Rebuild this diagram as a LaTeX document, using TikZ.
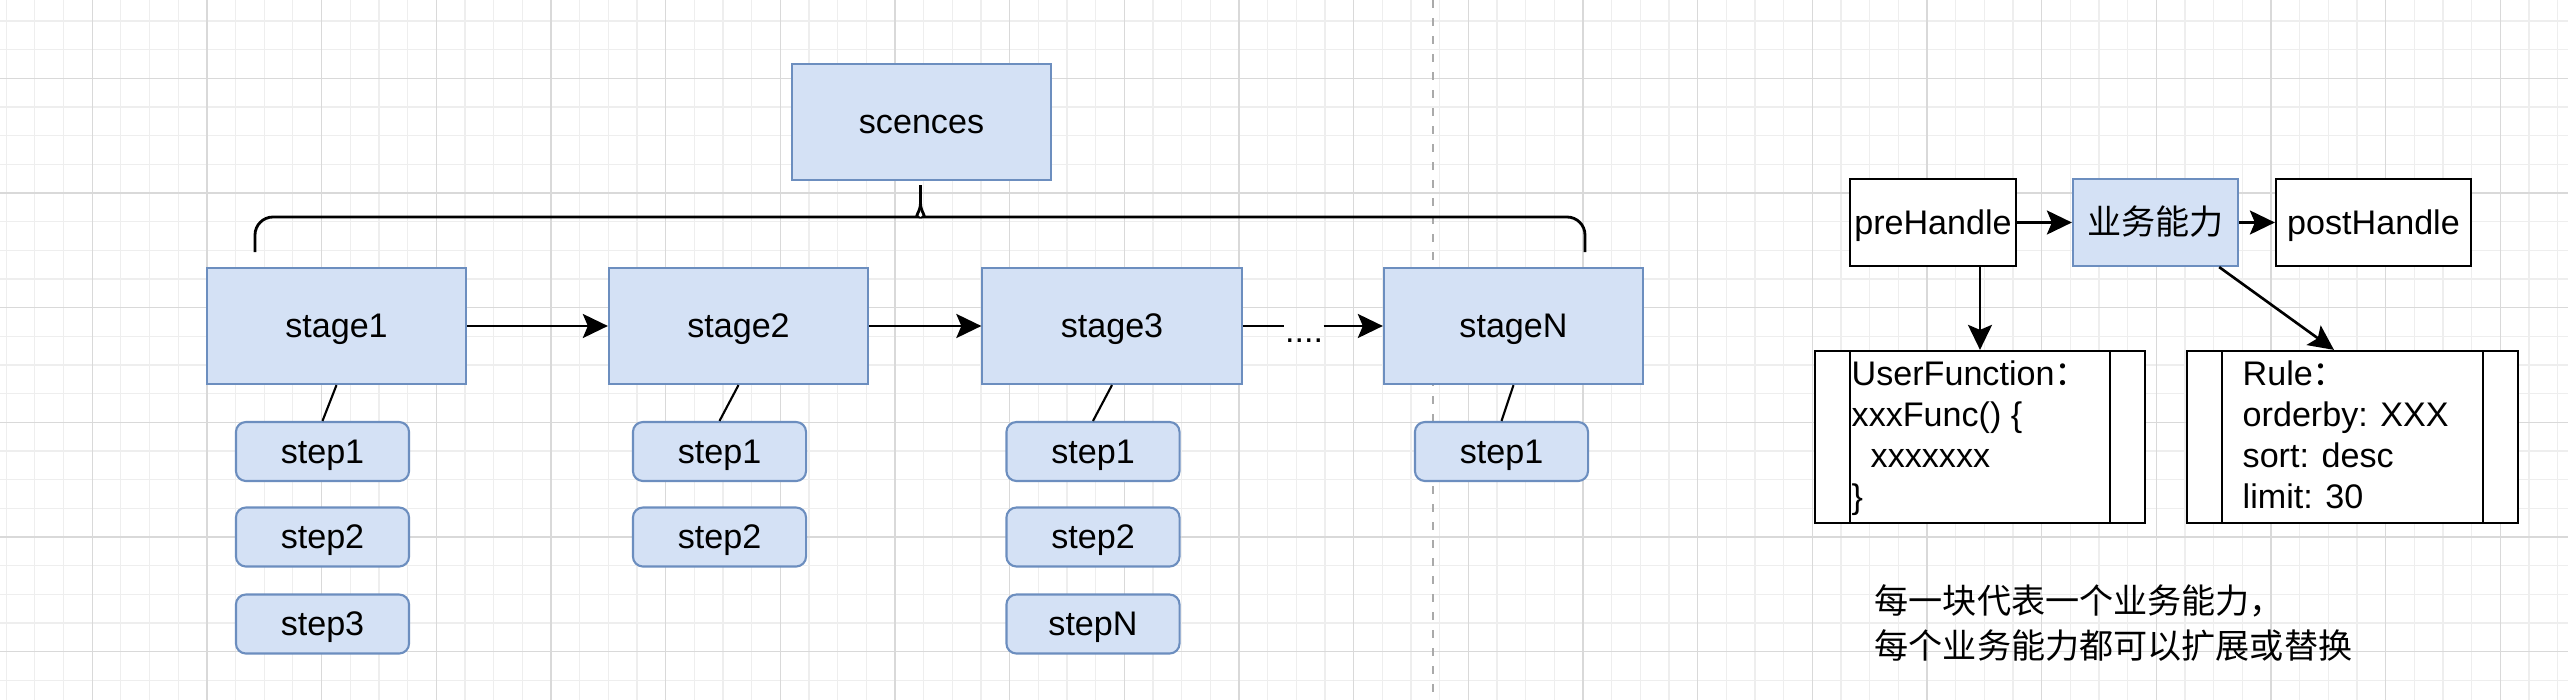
\documentclass[tikz,border=0pt]{standalone}
\usepackage{fontspec}
\setmainfont{Liberation Sans}
\newfontfamily\cjk{Noto Sans CJK SC}
\usetikzlibrary{arrows.meta}
\definecolor{bluefill}{HTML}{D4E1F5}
\definecolor{blueline}{HTML}{6C8EBF}
\definecolor{gridminor}{HTML}{EEEEEE}
\definecolor{gridmajor}{HTML}{D9D9D9}
\definecolor{sepgrey}{HTML}{AAAAAA}
\tikzset{
  bluebox/.style={draw=blueline, fill=bluefill, line width=0.6pt, inner sep=0pt, text height=0.85em, text depth=0.17em},
  stagebox/.style={bluebox, minimum width=2.59cm, minimum height=1.16cm},
  stepbox/.style={bluebox, rounded corners=0.1cm, minimum width=1.73cm, minimum height=0.59cm},
  handlebox/.style={draw=black, fill=white, line width=0.6pt, inner sep=0pt, minimum height=0.87cm, text height=0.85em, text depth=0.17em},
  procbox/.style={draw=black, fill=white, line width=0.6pt, minimum width=3.3cm, minimum height=1.72cm,
    path picture={\draw[line width=0.6pt]
      ([xshift=0.35cm]path picture bounding box.north west) -- ([xshift=0.35cm]path picture bounding box.south west)
      ([xshift=-0.35cm]path picture bounding box.north east) -- ([xshift=-0.35cm]path picture bounding box.south east);}},
  arr/.style={-{Stealth[length=0.25cm, width=0.24cm, inset=0.05cm]}, line width=0.75pt},
  link/.style={line width=0.6pt},
  brace/.style={line width=0.8pt, rounded corners=0.18cm},
}

\begin{document}
\begin{tikzpicture}[x=0.01cm, y=-0.01cm, font=\fontsize{9.7}{11.7}\selectfont]
		%%%%% GRID %%%%%
		\useasboundingbox (0,0) rectangle (2568,700);
		\fill[white] (0,0) rectangle (2568,700);
		\foreach \i in {0,...,89} \draw[gridminor, line width=0.3pt] ({6.3+\i*28.667},0) -- ++(0,700);
		\foreach \j in {1,...,24} \draw[gridminor, line width=0.3pt] (0,{-7.67+\j*28.667}) -- ++(2568,0);
		\foreach \k in {0,...,21} \draw[gridmajor, line width=0.4pt] ({92.3+\k*114.667},0) -- ++(0,700);
		\foreach \k in {0,...,5} \draw[gridmajor, line width=0.4pt] (0,{78.3+\k*114.667}) -- ++(2568,0);
		\draw[sepgrey, line width=0.6pt, dash pattern=on 0.08cm off 0.1cm] (1433,0) -- (1433,700);
		
		%%%%% LEFT %%%%%
		\node[stagebox] (scences) at (921.5, 122) {scences};
		\draw[brace] (255,252) |- (900,217) [sharp corners] .. controls (914,217) and (920.5,212) .. (920.5,203) -- (920.5,185);
		\draw[brace] (1585,252) |- (941,217) [sharp corners] .. controls (927,217) and (920.5,212) .. (920.5,203);
		
		\node[stagebox] (stage1) at (336.5, 326) {stage1};
		\node[stagebox] (stage2) at (738.5, 326) {stage2};
		\node[stagebox] (stage3) at (1112, 326) {stage3};
		\node[stagebox] (stageN) at (1513.5, 326) {stageN};
		
		\node[stepbox] (s1step1) at (322.5, 451.5) {step1};
		\node[stepbox] (s1step2) at (322.5, 537) {step2};
		\node[stepbox] (s1step3) at (322.5, 624) {step3};
		\node[stepbox] (s2step1) at (719.5, 451.5) {step1};
		\node[stepbox] (s2step2) at (719.5, 537) {step2};
		\node[stepbox] (s3step1) at (1093, 451.5) {step1};
		\node[stepbox] (s3step2) at (1093, 537) {step2};
		\node[stepbox] (s3stepN) at (1093, 624) {stepN};
		\node[stepbox] (sNstep1) at (1501.5, 451.5) {step1};
		
		\draw[link] (stage1.south) -- (s1step1.north);
		\draw[link] (stage2.south) -- (s2step1.north);
		\draw[link] (stage3.south) -- (s3step1.north);
		\draw[link] (stageN.south) -- (sNstep1.north);
		
		\draw[arr] (stage1) -- (stage2);
		\draw[arr] (stage2) -- (stage3);
		\node[anchor=base, inner sep=0pt] (dots) at (1304, 342) {....};
		\draw[arr, -] (stage3.east) -- (dots.west |- stage3.east);
		\draw[arr] (dots.east |- stageN.west) -- (stageN.west);
		
		%%%%% RIGHT %%%%%
		\node[handlebox, minimum width=1.66cm] (preHandle) at (1933, 222.5) {preHandle};
		\node[bluebox, minimum width=1.65cm, minimum height=0.87cm] (biz) at (2155.5, 222.5) {\cjk 业务能力};
		\node[handlebox, minimum width=1.95cm] (postHandle) at (2373.5, 222.5) {postHandle};
		\draw[arr] (preHandle) -- (biz);
		\draw[arr] (biz) -- (postHandle);
		
		\node[procbox] (userFunc) at (1980, 437) {};
		\node[procbox] (rule) at (2352.5, 437) {};
		\draw[arr] (userFunc.north |- preHandle.south) -- (userFunc.north);
		\draw[arr] (biz.-35) -- (rule.102);
		
		\node[anchor=north west, align=left, inner sep=0pt] (userFuncText) at (1851, 356)
			{\strut UserFunction\cjk{：}\\xxxFunc() \{\\\hspace*{0.19cm}xxxxxxx\\\}};
		\node[anchor=north west, align=left, inner sep=0pt] (ruleText) at (2242, 356)
			{\strut Rule\cjk{：}\\orderby: XXX\\sort: desc\\limit: 30};
		
		\node[anchor=north west, align=left, inner sep=0pt, font=\fontsize{9.7}{11.7}\selectfont\cjk] (note) at (1874, 584)
			{\strut 每一块代表一个业务能力，\\每个业务能力都可以扩展或替换};
		%%%%% END %%%%%
\end{tikzpicture}
\end{document}
